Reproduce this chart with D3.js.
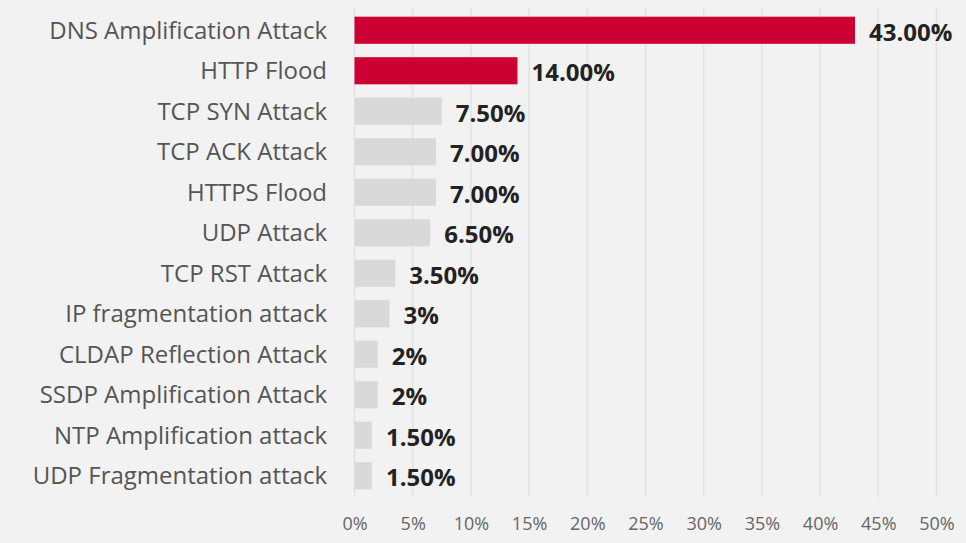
<!DOCTYPE html>
<html>
<head>
<meta charset="utf-8">
<script src="https://cdn.jsdelivr.net/npm/d3@7"></script>
<style>
  html, body { margin: 0; padding: 0; background: #f2f2f2; }
  svg { display: block; font-family: "Open Sans", sans-serif; }
</style>
</head>
<body>
<svg id="chart" width="966" height="543"></svg>
<script>
const attacks = [
  "DNS Amplification Attack", "HTTP Flood", "TCP SYN Attack", "TCP ACK Attack",
  "HTTPS Flood", "UDP Attack", "TCP RST Attack", "IP fragmentation attack",
  "CLDAP Reflection Attack", "SSDP Amplification Attack", "NTP Amplification attack",
  "UDP Fragmentation attack"
]
const shares = [43, 14, 7.5, 7, 7, 6.5, 3.5, 3, 2, 2, 1.5, 1.5]
const valueLabels = ["43.00%", "14.00%", "7.50%", "7.00%", "7.00%", "6.50%",
  "3.50%", "3%", "2%", "2%", "1.50%", "1.50%"]
const highlighted = ["DNS Amplification Attack", "HTTP Flood"]
const tickValues = [0, 5, 10, 15, 20, 25, 30, 35, 40, 45, 50]

const svg = d3.select("#chart")
const margin = { top: 10, right: 30, bottom: 47, left: 354.5 }

const x = d3.scaleLinear()
  .domain([0, 50])
  .range([margin.left, 936.5])

const y = d3.scaleBand()
  .domain(attacks)
  .range([margin.top, margin.top + 40.5 * attacks.length])
  .paddingInner(0.33)
  .paddingOuter(0.165)

// vertical gridlines
svg.append("g")
  .selectAll("line")
  .data(tickValues)
  .join("line")
  .attr("x1", d => x(d)).attr("x2", d => x(d))
  .attr("y1", 8).attr("y2", 497)
  .attr("stroke", "#e2e2e2")
  .attr("stroke-width", 1.5)

// x axis tick labels
const xAxis = d3.axisBottom(x)
  .tickValues(tickValues)
  .tickFormat(d => d + "%")
  .tickSize(0)
  .tickPadding(0)
svg.append("g")
  .attr("transform", "translate(0,517)")
  .call(xAxis)
  .call(g => g.select(".domain").remove())
  .call(g => g.selectAll("text")
    .attr("fill", "#666")
    .style("font-size", "18px")
    .style("font-family", "'Open Sans', sans-serif"))

const rows = attacks.map((a, i) => ({ name: a, value: shares[i], label: valueLabels[i] }))

// bars
svg.append("g")
  .selectAll("rect")
  .data(rows)
  .join("rect")
  .attr("x", x(0))
  .attr("y", d => y(d.name))
  .attr("width", d => x(d.value) - x(0))
  .attr("height", y.bandwidth())
  .attr("fill", d => highlighted.includes(d.name) ? "#cc0033" : "#d9d9d9")

// category labels
svg.append("g")
  .selectAll("text")
  .data(rows)
  .join("text")
  .attr("x", 327)
  .attr("y", d => y(d.name) + y.bandwidth() / 2)
  .attr("dy", "0.35em")
  .attr("text-anchor", "end")
  .attr("fill", "#555")
  .style("font-size", "24px")
  .text(d => d.name)

// value labels
svg.append("g")
  .selectAll("text")
  .data(rows)
  .join("text")
  .attr("x", d => x(d.value) + 14)
  .attr("y", d => y(d.name) + y.bandwidth() / 2 + 2)
  .attr("dy", "0.35em")
  .attr("fill", "#222")
  .style("font-size", "24px")
  .style("font-weight", "bold")
  .text(d => d.label)
</script>
</body>
</html>
